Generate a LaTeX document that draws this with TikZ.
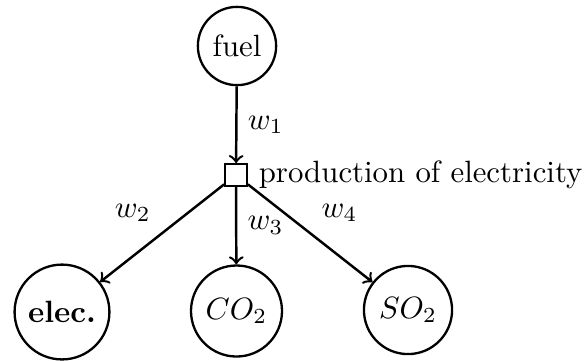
\documentclass[tikz,border=0pt]{standalone}
\usetikzlibrary{arrows}
\begin{document}
\begin{tikzpicture}[x=0.3247pt,y=-0.3247pt,
  var/.style={draw,circle,inner sep=3pt,line width=0.75pt},
  fac/.style={draw,rectangle,minimum size=7pt,inner sep=0pt,line width=0.75pt},
  arr/.style={->,line width=0.8pt},
  wlab/.style={inner sep=3.33pt}]
\useasboundingbox (0,0) rectangle (587,360);
\node[var] (fuel) at (237,46) {fuel};
\node[fac] (sq) at (236,175) {};
\node[anchor=west,inner sep=3.33pt] (plab) at (sq.east) {production of electricity};
\node[var] (elec) at (62,312) {\textbf{elec.}};
\node[var] (co2) at (236.5,311) {$CO_2$};
\node[var] (so2) at (408,310) {$SO_2$};
\draw[arr] (fuel) -- node[wlab,right] (l1) {$w_1$} (sq);
\draw[arr] (sq) -- node[wlab,above left] (l2) {$w_2$} (elec);
\draw[arr] (sq) -- node[wlab,right] (l3) {$w_3$} (co2);
\draw[arr] (sq) -- node[wlab,above right] (l4) {$w_4$} (so2);
\end{tikzpicture}
\end{document}
